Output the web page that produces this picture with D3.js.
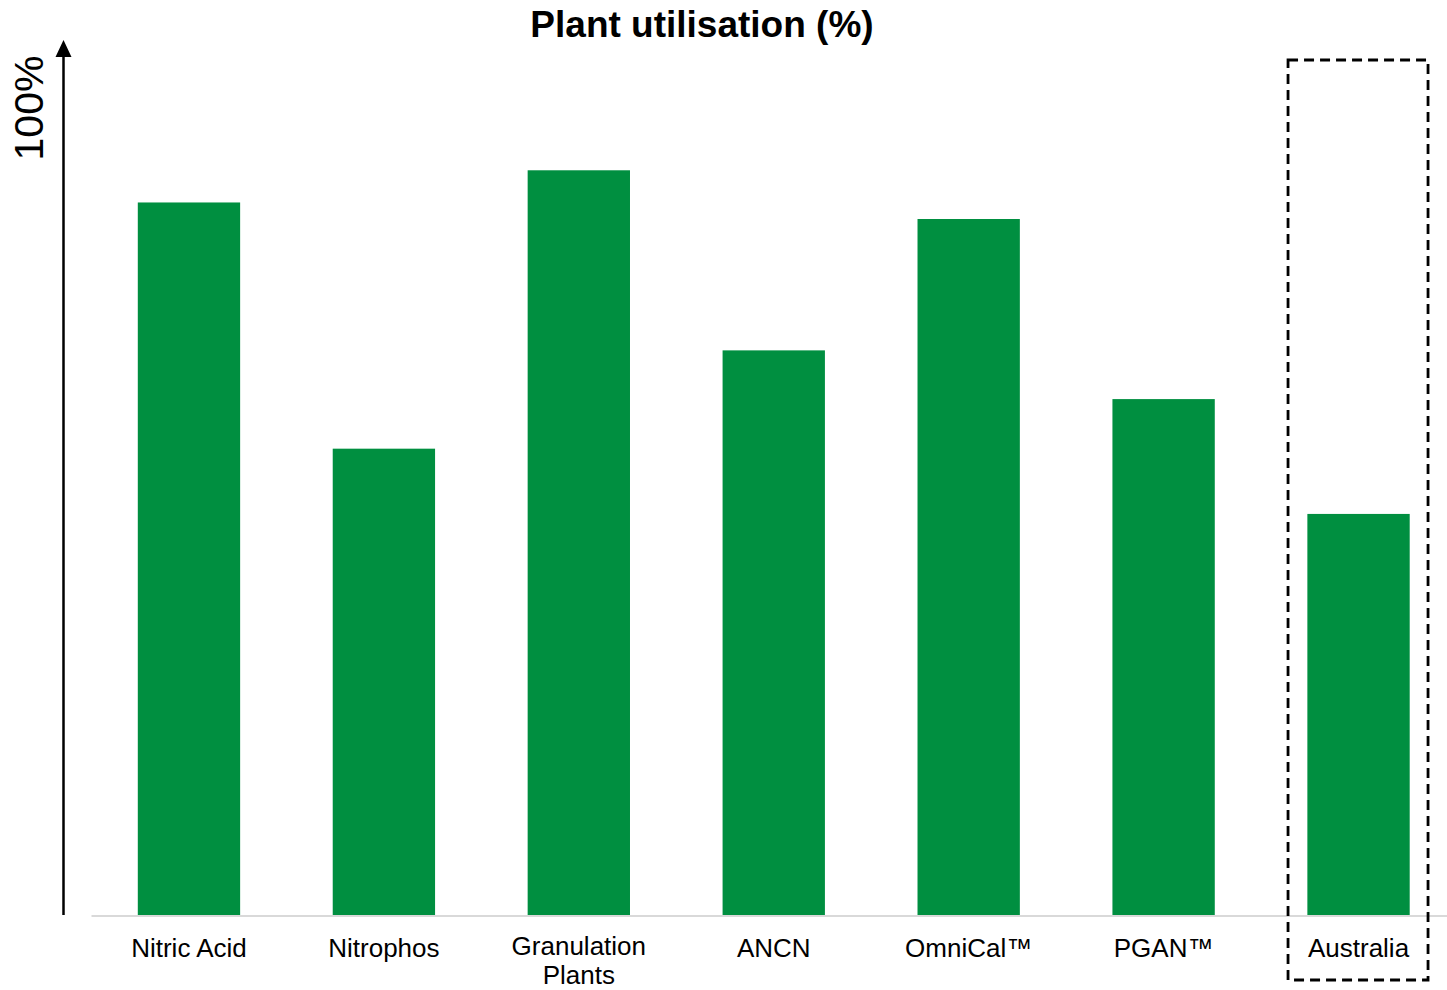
<!DOCTYPE html>
<html>
<head>
<meta charset="utf-8">
<script src="https://cdn.jsdelivr.net/npm/d3@7"></script>
<style>
  html, body { margin: 0; padding: 0; background: #fff; }
  svg { display: block; font-family: "Liberation Sans", Arial, sans-serif; }
</style>
</head>
<body>
<svg id="chart" width="1447" height="990"></svg>
<script>
// Plant utilisation by site type (% of nameplate capacity)
const categories = ["Nitric Acid", "Nitrophos", "Granulation Plants", "ANCN", "OmniCal™", "PGAN™", "Australia"];
const labelLines = [["Nitric Acid"], ["Nitrophos"], ["Granulation", "Plants"], ["ANCN"], ["OmniCal™"], ["PGAN™"], ["Australia"]];
const utilisation = [81.9, 53.6, 85.6, 64.9, 80.0, 59.3, 46.1];
const highlighted = ["Australia"];
const axisLabel = "100%";

const svg = d3.select("#chart");
const W = 1447, H = 990;
const baseY = 915, topY = 45;
const green = "#008f40";

const x = d3.scaleBand()
  .domain(categories)
  .range([91.5, 1456])
  .paddingInner(0.475)
  .paddingOuter(0.2375);

const y = d3.scaleLinear().domain([0, 100]).range([baseY, topY]);

// Title
svg.append("text")
  .attr("x", 702).attr("y", 37)
  .attr("text-anchor", "middle")
  .attr("font-size", 37).attr("font-weight", "bold")
  .attr("fill", "#000")
  .text("Plant utilisation (%)");

// Bars
svg.append("g").selectAll("rect")
  .data(categories)
  .join("rect")
  .attr("x", d => x(d))
  .attr("width", x.bandwidth())
  .attr("y", (d, i) => y(utilisation[i]))
  .attr("height", (d, i) => y(0) - y(utilisation[i]))
  .attr("fill", green);

// Category baseline
svg.append("line")
  .attr("x1", 91.5).attr("x2", W)
  .attr("y1", baseY + 1).attr("y2", baseY + 1)
  .attr("stroke", "#d9d9d9").attr("stroke-width", 2);

// Category labels (multi-line where needed)
const lineGap = 29;
const lbl = svg.append("g").selectAll("text")
  .data(categories)
  .join("text")
  .attr("x", d => x(d) + x.bandwidth() / 2)
  .attr("y", (d, i) => 957 - (labelLines[i].length - 1) * 2)
  .attr("text-anchor", "middle")
  .attr("font-size", 26)
  .attr("fill", "#000");
lbl.each(function(d, i) {
  const t = d3.select(this);
  labelLines[i].forEach((line, j) => {
    t.append("tspan")
      .attr("x", x(d) + x.bandwidth() / 2)
      .attr("dy", j === 0 ? 0 : lineGap)
      .text(line);
  });
});

// Vertical arrow axis
svg.append("line")
  .attr("x1", 63.5).attr("x2", 63.5)
  .attr("y1", baseY).attr("y2", 50)
  .attr("stroke", "#000").attr("stroke-width", 2.5);

svg.append("path")
  .attr("d", "M55.5,57 L63.5,40 L71.5,57 Z")
  .attr("fill", "#000");

svg.append("text")
  .attr("transform", "translate(43,108) rotate(-90)")
  .attr("text-anchor", "middle")
  .attr("font-size", 41)
  .attr("fill", "#000")
  .text(axisLabel);

// Dashed highlight box around selected categories
highlighted.forEach(c => {
  const cx = x(c) + x.bandwidth() / 2;
  svg.append("rect")
    .attr("x", cx - 70.5).attr("y", 60)
    .attr("width", 140).attr("height", 920)
    .attr("fill", "none")
    .attr("stroke", "#000").attr("stroke-width", 2.8)
    .attr("stroke-dasharray", "10,6");
});
</script>
</body>
</html>
